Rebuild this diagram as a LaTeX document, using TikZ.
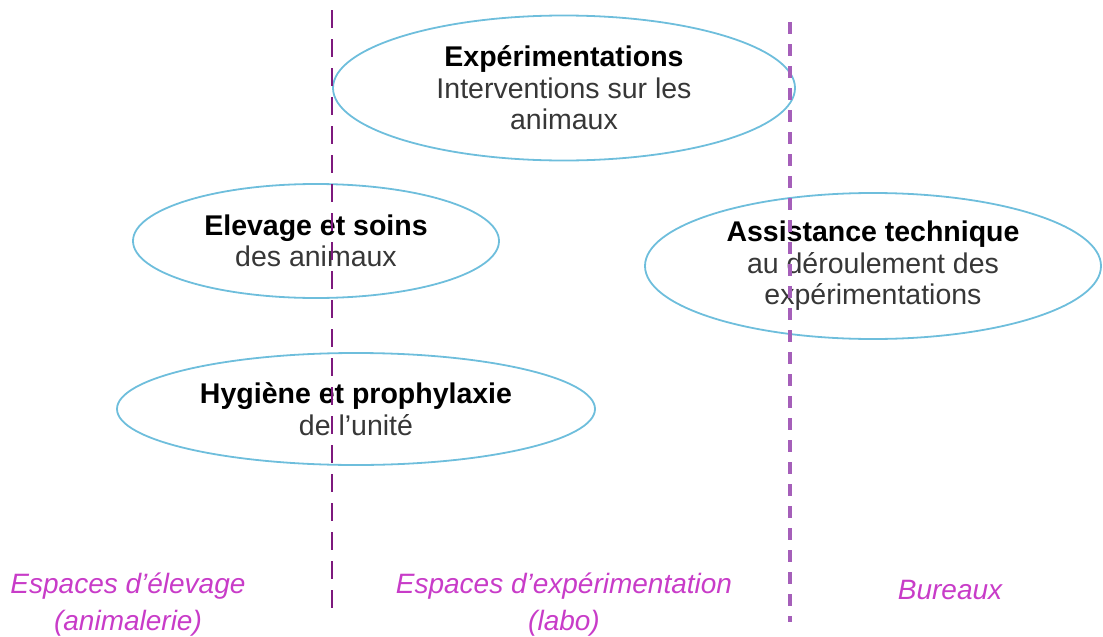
\documentclass[tikz,border=0pt]{standalone}
\usepackage{fontspec}
\setmainfont{Liberation Sans}
\usetikzlibrary{shapes.geometric}
\definecolor{ellblue}{RGB}{110,190,220}
\definecolor{darkgraytxt}{RGB}{55,55,55}
\definecolor{zonemag}{RGB}{200,60,200}
\definecolor{lineleft}{RGB}{125,25,125}
\definecolor{lineright}{RGB}{165,95,185}
\tikzset{
  zone/.style={ellipse, draw=ellblue, line width=1.8pt, inner sep=0pt, align=center,
    font=\fontsize{28.5}{31.5}\selectfont},
  zonelabel/.style={text=zonemag, align=center, font=\fontsize{28}{37}\selectfont\itshape},
  sepleft/.style={draw=lineleft, line width=2.6pt, dash pattern=on 18pt off 11pt},
  sepright/.style={draw=lineright, line width=4pt, dash pattern=on 12pt off 10pt},
}
\newcommand{\titl}[1]{\textbf{#1}}
\newcommand{\subl}[1]{\textcolor{darkgraytxt}{#1}}
\begin{document}
\begin{tikzpicture}[x=1pt,y=-1pt]
\useasboundingbox (0,0) rectangle (1103,637);
\node[zone, minimum width=462pt, minimum height=145pt] (exp) at (564,88)
  {\titl{Expérimentations}\\\subl{Interventions sur les}\\\subl{animaux}};
\node[zone, minimum width=366pt, minimum height=114pt] (elev) at (316,241)
  {\titl{Elevage et soins}\\\subl{des animaux}};
\node[zone, minimum width=456pt, minimum height=146pt] (assist) at (873,266)
  {\titl{Assistance technique}\\\subl{au déroulement des}\\\subl{expérimentations}};
\node[zone, minimum width=478pt, minimum height=112pt] (hyg) at (356,409)
  {\titl{Hygiène et prophylaxie}\\\subl{de l'unité}};
\node[zonelabel] (lab1) at (128,605) {Espaces d'élevage\\(animalerie)};
\node[zonelabel] (lab2) at (564,605) {Espaces d'expérimentation\\(labo)};
\node[zonelabel, anchor=base] (lab3) at (950,599) {Bureaux};
\coordinate (l1a) at (332,10);
\coordinate (l1b) at (332,610);
\coordinate (l2a) at (790,22);
\coordinate (l2b) at (790,622);
\draw[sepleft] (l1a) -- (l1b);
\draw[sepright] (l2a) -- (l2b);
\end{tikzpicture}
\end{document}
